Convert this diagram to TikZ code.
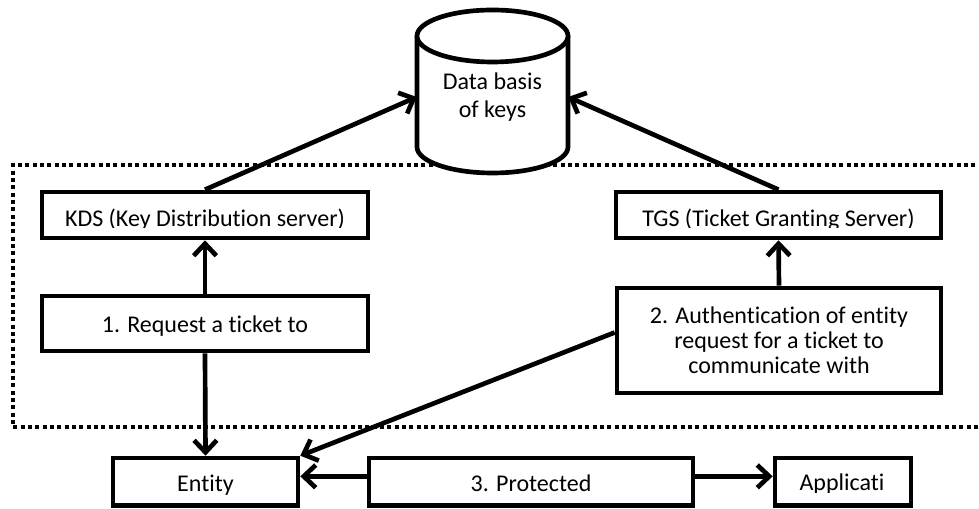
\documentclass[tikz,border=0pt]{standalone}
\usepackage{fontspec}
\setmainfont{Carlito}[Ligatures={NoCommon,NoContextual}]
\usepackage{tikz}
\usetikzlibrary{arrows.meta,positioning}

\tikzset{
  box/.style={draw,line width=3.5pt,fill=white,inner sep=0pt,
    font=\fontsize{18pt}{18.75pt}\selectfont,align=center},
  onerow/.style={text height=17pt,text depth=3pt},
  label/.style={font=\fontsize{18pt}{18.75pt}\selectfont,anchor=base,inner sep=0pt},
  link/.style={line width=3.5pt,-{Straight Barb[length=9pt,width=17pt]}},
  boundary/.style={line width=3pt,dash pattern=on 3pt off 2.5pt}
}

\begin{document}
\begin{tikzpicture}[x=0.75pt,y=0.75pt]
  \clip (0,0) rectangle (979,509);

  % servers area
  \draw[boundary] (990,344) -| (13,82) -- (990,82);

  % data basis
  \draw[line width=3.5pt,fill=white] (417,473) -- (417,362)
    arc[start angle=180,end angle=360,x radius=56.625pt,y radius=19.5pt]
    -- (568,473);
  \draw[line width=3.5pt,fill=white] (492.5,473)
    ellipse[x radius=56.625pt,y radius=19.5pt];
  \node[font=\fontsize{18pt}{21pt}\selectfont,align=center,inner sep=0pt,
    minimum width=113.25pt] (db) at (492.5,412) {Data basis\\of keys};

  % servers
  \node[box,minimum width=244.5pt,minimum height=34.5pt] (kds) at (205,294) {};
  \node[box,minimum width=243.75pt,minimum height=34.5pt] (tgs) at (778.5,294) {};
  \begin{scope}
    \clip (42,281) rectangle (941,317);
    \node[label] (kdstext) at (205,282.5) {KDS (Key Distribution server)};
    \node[label] (tgstext) at (778.5,282.5) {TGS (Ticket Granting Server)};
  \end{scope}

  % steps
  \node[box,onerow,minimum width=244.5pt,minimum height=41.25pt] (req)
    at (205,185.5) {1. Request a ticket to};
  \node[box,minimum width=243pt,minimum height=78.75pt] (auth) at (779,168.5)
    {2. Authentication of entity\\request for a ticket to\\communicate with};

  % bottom row
  \node[box,onerow,minimum width=138.75pt,minimum height=35.5pt] (entity)
    at (205.5,27.3) {Entity};
  \node[box,onerow,minimum width=243pt,minimum height=35.5pt] (prot)
    at (531,27.3) {3. Protected};
  \node[box,minimum width=102pt,minimum height=35.5pt] (app) at (843,27.3) {};
  \begin{scope}
    \clip (775,16.5) rectangle (911,51);
    \node[label] (apptext) at (842,18) {Applicati};
  \end{scope}

  \draw[link] (kds.north) -- (db.west);
  \draw[link] (tgs.north) -- (db.east);
  \draw[link] (req.north) -- (kds.south);
  \draw[link] (req.south) -- (entity.north);
  \draw[link] (auth.north) -- (tgs.south);
  \draw[link] ([yshift=6pt]auth.west) -- (entity.north east);
  \draw[link] ([yshift=4pt]prot.west) -- ([yshift=4pt]entity.east);
  \draw[link] ([yshift=4pt]prot.east) -- ([yshift=4pt]app.west);
\end{tikzpicture}
\end{document}
